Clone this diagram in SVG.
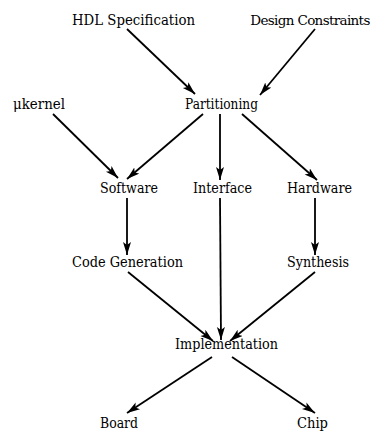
<svg xmlns="http://www.w3.org/2000/svg" width="375" height="431" viewBox="0 0 375 431">
<style>
text{font-family:'DejaVu Serif','Liberation Serif',serif;font-size:14px;fill:#000;text-anchor:middle}
.e{stroke:#000;stroke-width:1.8;fill:none;marker-end:url(#ah)}
</style>
<defs>
<marker id="ah" markerUnits="userSpaceOnUse" markerWidth="14" markerHeight="10" refX="13" refY="4" orient="auto">
<path d="M0,0 L13,4 L0,8 L3,4 Z" fill="#000"/>
</marker>
</defs>
<rect width="375" height="431" fill="#fff"/>
<g id="connectors">
<line class="e" x1="127" y1="29" x2="195" y2="94"/>
<line class="e" x1="315" y1="29" x2="260" y2="95"/>
<line class="e" x1="53" y1="114" x2="118" y2="178"/>
<line class="e" x1="203" y1="114" x2="127" y2="179"/>
<line class="e" x1="220" y1="114" x2="220" y2="180"/>
<line class="e" x1="242" y1="114" x2="317" y2="180"/>
<line class="e" x1="127" y1="198" x2="127" y2="255"/>
<line class="e" x1="315" y1="198" x2="315" y2="255"/>
<line class="e" x1="220" y1="198" x2="221" y2="340"/>
<line class="e" x1="128" y1="272" x2="213" y2="341"/>
<line class="e" x1="315" y1="272" x2="230" y2="341"/>
<line class="e" x1="212" y1="357" x2="127" y2="413"/>
<line class="e" x1="232" y1="357" x2="315" y2="413"/>
</g>
<g id="hdl"><text x="133.5" y="25" textLength="123" lengthAdjust="spacingAndGlyphs">HDL Specification</text></g>
<g id="constraints"><text x="310" y="25" style="font-size:13.5px;letter-spacing:-0.65px">Design Constraints</text></g>
<g id="ukernel"><text x="39" y="109" textLength="52" lengthAdjust="spacingAndGlyphs">μkernel</text></g>
<g id="partitioning"><text x="221.5" y="109" textLength="73" lengthAdjust="spacingAndGlyphs">Partitioning</text></g>
<g id="software"><text x="129" y="193" textLength="58" lengthAdjust="spacingAndGlyphs">Software</text></g>
<g id="interface"><text x="222.5" y="193" textLength="59" lengthAdjust="spacingAndGlyphs">Interface</text></g>
<g id="hardware"><text x="319.5" y="193" textLength="65" lengthAdjust="spacingAndGlyphs">Hardware</text></g>
<g id="codegen"><text x="127.5" y="267" textLength="111" lengthAdjust="spacingAndGlyphs">Code Generation</text></g>
<g id="synthesis"><text x="318" y="267" textLength="62" lengthAdjust="spacingAndGlyphs">Synthesis</text></g>
<g id="implementation"><text x="226.5" y="349" textLength="103" lengthAdjust="spacingAndGlyphs">Implementation</text></g>
<g id="board"><text x="119" y="428" textLength="38" lengthAdjust="spacingAndGlyphs">Board</text></g>
<g id="chip"><text x="312.5" y="428" textLength="31" lengthAdjust="spacingAndGlyphs">Chip</text></g>
</svg>
